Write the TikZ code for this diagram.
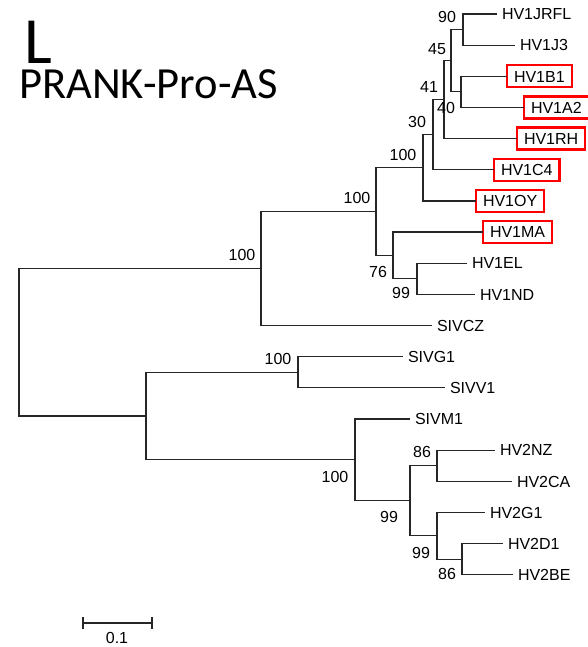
\documentclass[tikz,border=0pt]{standalone}
\usepackage{fontspec}
\setmainfont{Liberation Sans}
\newfontfamily\titlefont{Carlito}
\begin{document}
\begin{tikzpicture}[x=1pt,y=-1pt,
  br/.style={draw=black!85,line width=1.2pt},
  leaf/.style={anchor=west,inner xsep=5pt,inner ysep=0pt,outer sep=0pt,text height=11.5pt,text depth=0pt,font=\fontsize{16}{16}\selectfont},
  hl/.style={anchor=west,draw=red,line width=2.4pt,inner xsep=7pt,inner ysep=0pt,outer sep=0pt,text height=11.5pt,text depth=0pt,minimum height=22pt,font=\fontsize{16}{16}\selectfont},
  bs/.style={inner sep=0pt,font=\fontsize{16}{16}\selectfont}]
\path[use as bounding box] (0,0) rectangle (587,647);
% titles
\node[anchor=base west,inner sep=0pt,font=\titlefont\fontsize{66}{70}\selectfont] (lt) at (24,64) {L};
\node[anchor=base west,inner sep=0pt,font=\titlefont\fontsize{44.5}{48}\selectfont] (tt) at (19,99) {PRANK-Pro-AS};
% leaves
\node[leaf] (JRFL) at (497,14) {HV1JRFL};
\node[leaf] (J3) at (515,45.15) {HV1J3};
\node[hl] (B1) at (507,76.3) {HV1B1};
\node[hl] (A2) at (524,107.45) {HV1A2};
\node[hl] (RH) at (517,138.6) {HV1RH};
\node[hl] (C4) at (494,169.75) {HV1C4};
\node[hl] (OY) at (476,200.9) {HV1OY};
\node[hl] (MA) at (483,232.05) {HV1MA};
\node[leaf] (EL) at (467,263.2) {HV1EL};
\node[leaf] (ND) at (475,294.35) {HV1ND};
\node[leaf] (CZ) at (432,325.5) {SIVCZ};
\node[leaf] (G1) at (403,356.65) {SIVG1};
\node[leaf] (V1) at (445,387.8) {SIVV1};
\node[leaf] (M1) at (410,418.95) {SIVM1};
\node[leaf] (NZ) at (495,450.1) {HV2NZ};
\node[leaf] (CA) at (512,481.25) {HV2CA};
\node[leaf] (HG1) at (485,512.4) {HV2G1};
\node[leaf] (D1) at (503,543.55) {HV2D1};
\node[leaf] (BE) at (513,574.7) {HV2BE};
% internal nodes
\coordinate (a) at (463,29.6);
\coordinate (b) at (461,91.9);
\coordinate (c) at (451,60.7);
\coordinate (d) at (444,99.7);
\coordinate (e) at (433,134.7);
\coordinate (f) at (423,167.8);
\coordinate (g) at (417,278.8);
\coordinate (h) at (393,255.4);
\coordinate (i) at (376,211.6);
\coordinate (j) at (261,268.5);
\coordinate (k) at (298,372.2);
\coordinate (l) at (437,465.7);
\coordinate (m) at (462,559.1);
\coordinate (n) at (437,535.8);
\coordinate (o) at (410,500.7);
\coordinate (p) at (355,459.8);
\coordinate (q) at (146,416);
\coordinate (root) at (19,342.3);
% branches
\draw[br] (a) |- (JRFL.west);
\draw[br] (a) |- (J3.west);
\draw[br] (b) |- (B1.west);
\draw[br] (b) |- (A2.west);
\draw[br] (c) |- (a);
\draw[br] (c) |- (b);
\draw[br] (d) |- (c);
\draw[br] (d) |- (RH.west);
\draw[br] (e) |- (d);
\draw[br] (e) |- (C4.west);
\draw[br] (f) |- (e);
\draw[br] (f) |- (OY.west);
\draw[br] (g) |- (EL.west);
\draw[br] (g) |- (ND.west);
\draw[br] (h) |- (MA.west);
\draw[br] (h) |- (g);
\draw[br] (i) |- (f);
\draw[br] (i) |- (h);
\draw[br] (j) |- (i);
\draw[br] (j) |- (CZ.west);
\draw[br] (k) |- (G1.west);
\draw[br] (k) |- (V1.west);
\draw[br] (l) |- (NZ.west);
\draw[br] (l) |- (CA.west);
\draw[br] (m) |- (D1.west);
\draw[br] (m) |- (BE.west);
\draw[br] (n) |- (HG1.west);
\draw[br] (n) |- (m);
\draw[br] (o) |- (l);
\draw[br] (o) |- (n);
\draw[br] (p) |- (M1.west);
\draw[br] (p) |- (o);
\draw[br] (q) |- (k);
\draw[br] (q) |- (p);
\draw[br] (root) |- (j);
\draw[br] (root) |- (q);
% bootstrap values
\node[bs] (ba) at (447,17) {90};
\node[bs] (bc) at (437,49) {45};
\node[bs] (bd) at (429,87) {41};
\node[bs] (bb) at (446,108) {40};
\node[bs] (be) at (417,122) {30};
\node[bs] (bf) at (403,155) {100};
\node[bs] (bi) at (357,198) {100};
\node[bs] (bj) at (242,255) {100};
\node[bs] (bh) at (378,272) {76};
\node[bs] (bg) at (401,293) {99};
\node[bs] (bk) at (278,359) {100};
\node[bs] (bp) at (335,477) {100};
\node[bs] (bl) at (422,452) {86};
\node[bs] (bo) at (389,517) {99};
\node[bs] (bn) at (421,553) {99};
\node[bs] (bm) at (447,574) {86};
% scale bar
\coordinate (s1) at (83,623);
\coordinate (s2) at (152,623);
\draw[br] (s1) -- (s2);
\draw[br] ([yshift=-6pt]s1) -- ([yshift=6pt]s1);
\draw[br] ([yshift=-6pt]s2) -- ([yshift=6pt]s2);
\node[bs] (sl) at (117,638) {0.1};
\end{tikzpicture}
\end{document}
